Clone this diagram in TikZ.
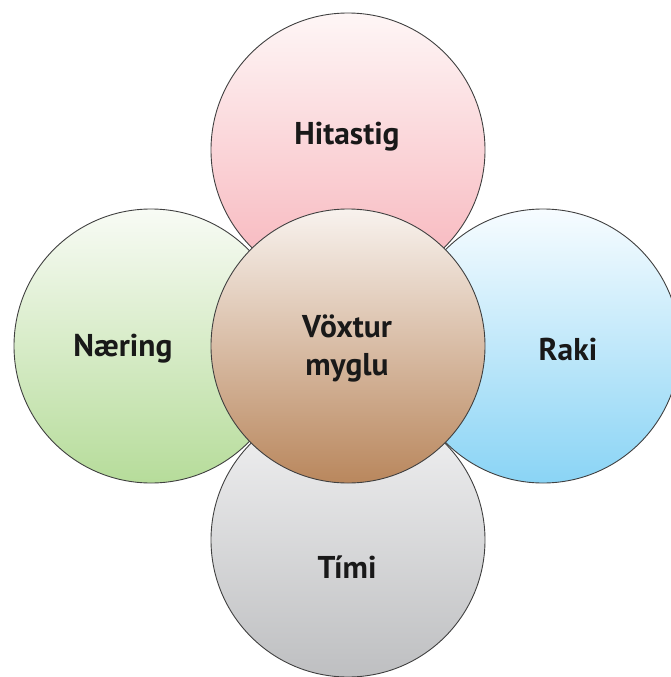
\documentclass[tikz,border=0pt]{standalone}
\usepackage{fontspec}
\setmainfont{PT Sans}
\begin{document}
\begin{tikzpicture}[x=1pt,y=-1pt,
  petal/.style={circle, draw=black!75, line width=0.9pt, minimum size=274pt, inner sep=0pt, outer sep=0pt},
  lbl/.style={font=\fontsize{31.5}{38}\selectfont\bfseries, text=black!90, align=center, inner sep=0pt}]
\useasboundingbox (0,0) rectangle (671,677);
\definecolor{pinkT}{HTML}{FEF6F6}\definecolor{pinkB}{HTML}{F7B3BA}
\definecolor{greenT}{HTML}{F8FBF5}\definecolor{greenB}{HTML}{B6DC9A}
\definecolor{blueT}{HTML}{F7FCFF}\definecolor{blueB}{HTML}{8AD4F5}
\definecolor{grayT}{HTML}{F3F3F4}\definecolor{grayB}{HTML}{BEBFC1}
\definecolor{brownT}{HTML}{F8F2EE}\definecolor{brownB}{HTML}{B9875D}
\node[petal, top color=pinkT, bottom color=pinkB] (top) at (348,150) {};
\node[petal, top color=greenT, bottom color=greenB] (left) at (151,346) {};
\node[petal, top color=blueT, bottom color=blueB] (right) at (543,346) {};
\node[petal, top color=grayT, bottom color=grayB] (bottom) at (348,540) {};
\node[petal, top color=brownT, bottom color=brownB] (center) at (348,346) {};
\node[lbl] (ttop) at (347,137) {Hitastig};
\node[lbl] (tleft) at (123,349) {Næring};
\node[lbl] (tright) at (568,349) {Raki};
\node[lbl] (tbottom) at (347,567) {Tími};
\node[lbl] (tcenter) at (347,348) {Vöxtur\\myglu};
\end{tikzpicture}
\end{document}
